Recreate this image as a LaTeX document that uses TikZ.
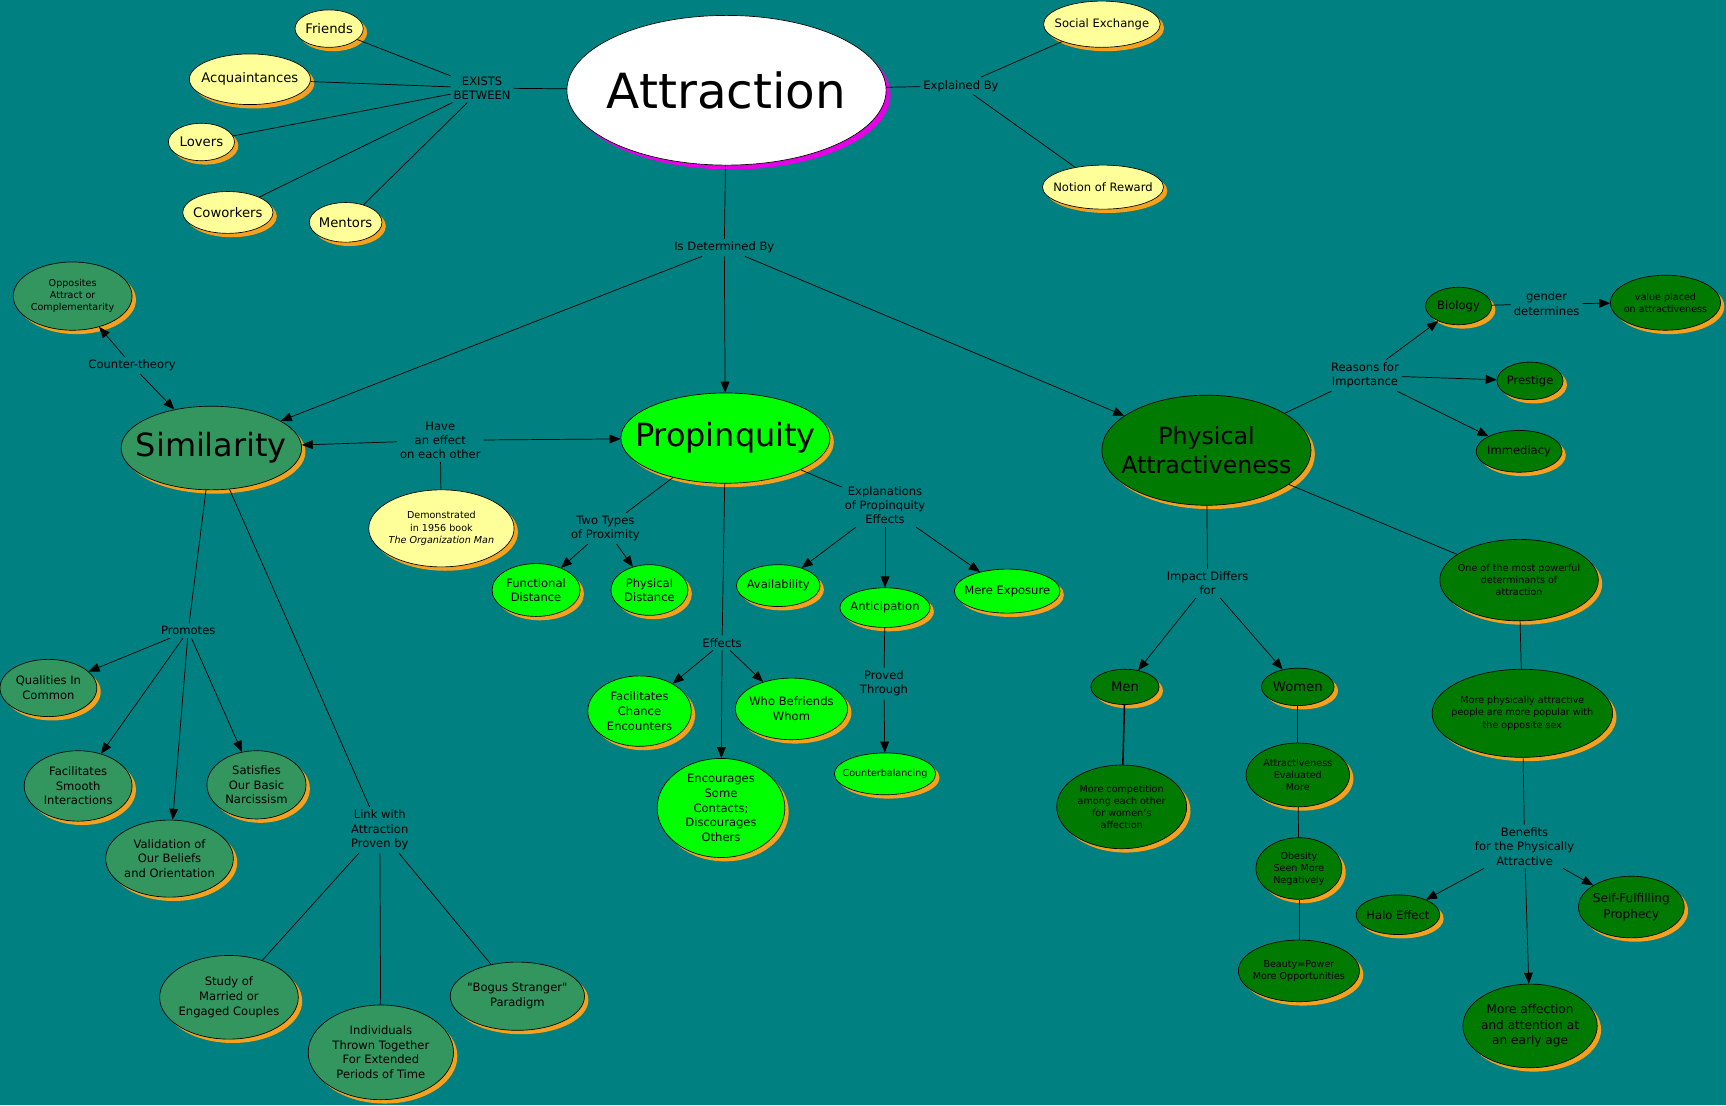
\documentclass[tikz,border=0pt]{standalone}
\usepackage{fontspec}
\setmainfont{DejaVu Sans}
\usetikzlibrary{shapes.geometric, arrows.meta, shadows}

\definecolor{seabg}{RGB}{0,128,128}
\definecolor{paleyellow}{RGB}{255,255,153}
\definecolor{sagegreen}{RGB}{51,150,95}
\definecolor{brightgreen}{RGB}{0,255,0}
\definecolor{deepgreen}{RGB}{0,122,0}
\definecolor{rimorange}{RGB}{245,160,30}
\definecolor{rimmagenta}{RGB}{230,0,230}

\newcommand{\ftiny}{\fontsize{8.7}{11}\selectfont}
\newcommand{\fsmall}{\fontsize{10.5}{13.3}\selectfont}
\newcommand{\fmid}{\fontsize{12}{14.5}\selectfont}
% ellipse with its text on top: [font]{style}{name}{pos}{width}{height}{text}
\newcommand{\bub}[7][\fsmall]{%
  \node[#2, minimum width=#5, minimum height=#6] (#3) at (#4) {};
  \node[txt, font=#1] (#3-t) at (#3) {#7};}

\tikzset{
  oval/.style={ellipse, draw=black, line width=0.6pt, inner sep=0pt},
  bubble/.style={oval, drop shadow={shadow xshift=3.5pt, shadow yshift=-3.5pt, fill=rimorange, opacity=1}},
  yel/.style={bubble, fill=paleyellow},
  sage/.style={bubble, fill=sagegreen},
  bright/.style={bubble, fill=brightgreen},
  deep/.style={bubble, fill=deepgreen},
  txt/.style={align=center, inner sep=0pt, text=black},
  phrase/.style={align=center, inner sep=2.5pt, font=\fontsize{10.5}{13}\selectfont},
  arr/.style={-{Triangle[length=10pt, width=8pt]}}
}

\begin{document}
\begin{tikzpicture}[x=1pt, y=-1pt, line width=0.65pt]
\fill[seabg] (0,0) rectangle (1568,1004);
\useasboundingbox (0,0) rectangle (1568,1004);

% centre
\node[oval, fill=white, minimum width=290, minimum height=136,
  drop shadow={shadow xshift=4pt, shadow yshift=-4pt, fill=rimmagenta, opacity=1}] (attraction) at (660,82) {};
\node[txt, font=\fontsize{44}{50}\selectfont] (attraction-t) at (attraction) {Attraction};

% who
\bub[\fmid]{yel}{friends}{299,26}{62}{34}{Friends}
\bub[\fmid]{yel}{acquaint}{227,72}{110}{46}{Acquaintances}
\bub[\fmid]{yel}{lovers}{183,129}{60}{34}{Lovers}
\bub[\fmid]{yel}{coworkers}{207,193}{82}{38}{Coworkers}
\bub[\fmid]{yel}{mentors}{314,202}{66}{36}{Mentors}
\node[phrase] (exists) at (438,80) {EXISTS\\BETWEEN};

% explained
\node[phrase] (explained) at (873,78) {Explained By};
\bub{yel}{socex}{1001,22}{106}{42}{Social Exchange}
\bub{yel}{reward}{1002,170}{110}{40}{Notion of Reward}

\node[phrase] (determined) at (658,225) {Is Determined By};

% similarity
\bub[\fontsize{29}{34}\selectfont]{sage}{similarity}{192,407}{164}{76}{Similarity}
\bub[\ftiny]{sage}{opposites}{66,269}{108}{62}{Opposites\\Attract or\\Complementarity}
\node[phrase] (counter) at (120,332) {Counter-theory};
\node[phrase] (effect) at (400,400) {Have\\an effect\\on each other};
\bub[\ftiny]{yel}{demo}{401,480}{132}{70}{Demonstrated\\in 1956 book\\\textit{The Organization Man}}
\node[phrase] (promotes) at (171,573) {Promotes};
\bub{sage}{qualities}{44,625}{88}{52}{Qualities In\\Common}
\bub{sage}{smooth}{71,714}{98}{64}{Facilitates\\Smooth\\Interactions}
\bub{sage}{validation}{154,780}{116}{70}{Validation of\\Our Beliefs\\and Orientation}
\bub{sage}{narcissism}{233,713}{90}{62}{Satisfies\\Our Basic\\Narcissism}
\node[phrase] (proven) at (345,754) {Link with\\Attraction\\Proven by};
\bub{sage}{couples}{208,906}{126}{76}{Study of\\Married or\\Engaged Couples}
\bub{sage}{thrown}{346,956}{132}{86}{Individuals\\Thrown Together\\For Extended\\Periods of Time}
\bub{sage}{bogus}{470,905}{122}{62}{\textquotedbl Bogus Stranger\textquotedbl\\Paradigm}

% propinquity
\bub[\fontsize{29}{34}\selectfont]{bright}{propinquity}{659,398}{190}{82}{Propinquity}
\node[phrase] (twotypes) at (550,480) {Two Types\\of Proximity};
\bub{bright}{functional}{487,536}{80}{48}{Functional\\Distance}
\bub{bright}{physdist}{590,536}{70}{46}{Physical\\Distance}
\node[phrase] (explan) at (804,459) {Explanations\\of Propinquity\\Effects};
\bub{bright}{availability}{707,532}{76}{38}{Availability}
\bub{bright}{anticipation}{804,552}{82}{36}{Anticipation}
\bub{bright}{exposure}{915,537}{96}{40}{Mere Exposure}
\node[phrase] (effects) at (656,584) {Effects};
\bub{bright}{chance}{581,646}{94}{64}{Facilitates\\Chance\\Encounters}
\bub{bright}{befriends}{719,644}{102}{56}{Who Befriends\\Whom}
\bub{bright}{encourages}{655,734}{116}{90}{Encourages\\Some\\Contacts;\\Discourages\\Others}
\node[phrase] (proved) at (803,621) {Proved\\Through};
\bub[\ftiny]{bright}{counterbal}{804,703}{92}{38}{Counterbalancing}

% physical attractiveness
\bub[\fontsize{21.5}{26}\selectfont]{deep}{physattr}{1096,409}{190}{100}{Physical\\Attractiveness}
\node[phrase] (reasons) at (1240,341) {Reasons for\\Importance};
\bub{deep}{biology}{1325,278}{60}{34}{Biology}
\node[phrase] (gender) at (1405,276) {gender\\determines};
\bub[\ftiny]{deep}{valueplaced}{1513,275}{100}{50}{value placed\\on attractiveness}
\bub{deep}{prestige}{1390,346}{60}{34}{Prestige}
\bub{deep}{immediacy}{1380,410}{78}{38}{Immediacy}
\node[phrase] (impact) at (1097,530) {Impact Differs\\for};
\bub[\fmid]{deep}{men}{1022,624}{62}{32}{Men}
\bub[\fmid]{deep}{women}{1179,624}{66}{34}{Women}
\bub[\ftiny]{deep}{competition}{1019,733}{118}{76}{More competition\\among each other\\for women's\\affection}
\bub[\ftiny]{deep}{evaluated}{1179,704}{94}{58}{Attractiveness\\Evaluated\\More}
\bub[\ftiny]{deep}{obesity}{1180,789}{78}{56}{Obesity\\Seen More\\Negatively}
\bub[\ftiny]{deep}{beauty}{1180,882}{110}{56}{Beauty=Power\\More Opportunities}
\bub[\ftiny]{deep}{powerful}{1380,527}{144}{74}{One of the most powerful\\determinants of\\attraction}
\bub[\ftiny]{deep}{popular}{1383,648}{164}{80}{More physically attractive\\people are more popular with\\the opposite sex}
\node[phrase] (benefits) at (1385,769) {Benefits\\for the Physically\\Attractive};
\bub{deep}{halo}{1270,831}{76}{36}{Halo Effect}
\bub[\fontsize{11}{14}\selectfont]{deep}{selffulfil}{1482,824}{96}{56}{Self-Fulfilling\\Prophecy}
\bub[\fontsize{11}{14}\selectfont]{deep}{affection}{1390,932}{122}{76}{More affection\\and attention at\\an early age}

% connectors
\foreach \who in {friends, acquaint, lovers, coworkers, mentors}
  \draw (exists) -- (\who);
\draw (exists) -- (attraction);
\draw (attraction) -- (explained);
\draw (explained) -- (socex);
\draw (explained) -- (reward);
\draw (attraction) -- (determined);
\foreach \to in {similarity, propinquity, physattr}
  \draw[arr] (determined) -- (\to);

\draw[arr] (counter) -- (opposites);
\draw[arr] (counter) -- (similarity);
\draw[arr] (effect) -- (similarity);
\draw[arr] (effect) -- (propinquity);
\draw (effect) -- (demo);
\draw (similarity) -- (promotes);
\foreach \to in {qualities, smooth, validation, narcissism}
  \draw[arr] (promotes) -- (\to);
\draw (similarity) -- (proven);
\foreach \to in {couples, thrown, bogus}
  \draw (proven) -- (\to);

\draw (propinquity) -- (twotypes);
\draw[arr] (twotypes) -- (functional);
\draw[arr] (twotypes) -- (physdist);
\draw (propinquity) -- (explan);
\foreach \to in {availability, anticipation, exposure}
  \draw[arr] (explan) -- (\to);
\draw (propinquity) -- (effects);
\foreach \to in {chance, encourages, befriends}
  \draw[arr] (effects) -- (\to);
\draw (anticipation) -- (proved);
\draw[arr] (proved) -- (counterbal);

\draw (physattr) -- (reasons);
\foreach \to in {biology, prestige, immediacy}
  \draw[arr] (reasons) -- (\to);
\draw (biology) -- (gender);
\draw[arr] (gender) -- (valueplaced);
\draw (physattr) -- (impact);
\draw[arr] (impact) -- (men);
\draw[arr] (impact) -- (women);
\draw[line width=1.4pt] (men) -- (competition);
\draw (women) -- (evaluated);
\draw (evaluated) -- (obesity);
\draw (obesity) -- (beauty);
\draw (physattr) -- (powerful);
\draw (powerful) -- (popular);
\draw (popular) -- (benefits);
\foreach \to in {halo, affection, selffulfil}
  \draw[arr] (benefits) -- (\to);
\end{tikzpicture}
\end{document}
